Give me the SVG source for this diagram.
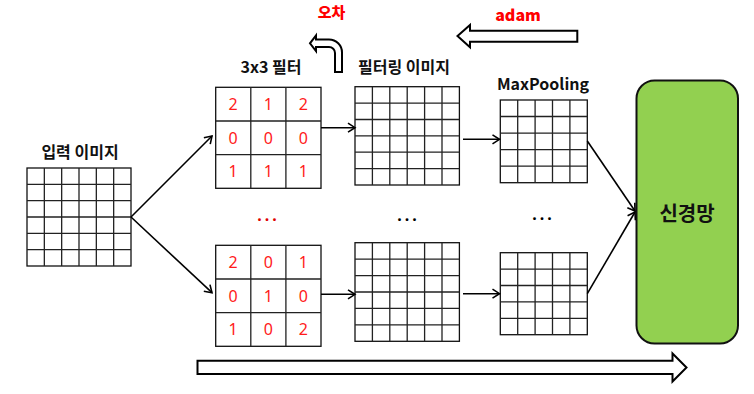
<svg xmlns="http://www.w3.org/2000/svg" width="754" height="394" viewBox="0 0 754 394">
<defs>
<marker id="ah" markerWidth="12" markerHeight="12" refX="9" refY="6" orient="auto" markerUnits="userSpaceOnUse">
<path d="M2,1.5 L9,6 L2,10.5" fill="none" stroke="#000" stroke-width="1.6"/>
</marker>
</defs>
<style>
.grid{fill:#fff;stroke:#111;stroke-width:1.3}
.gl{fill:none;stroke:#222;stroke-width:1.3}
.lbl{font-family:"Noto Sans CJK KR","Noto Sans",sans-serif;font-weight:bold;font-size:16px;fill:#111;text-anchor:middle}
.num{font-family:"Noto Sans","Noto Sans CJK KR",sans-serif;font-size:16px;fill:#ff1a1a;text-anchor:middle}
.red{font-family:"Noto Sans CJK KR","Noto Sans",sans-serif;font-weight:900;font-size:16px;fill:#ff0000;text-anchor:middle}
.dots{font-family:"Noto Sans",sans-serif;font-weight:bold;font-size:16px;letter-spacing:3px;text-anchor:middle}
.conn{fill:none;stroke:#000;stroke-width:1.6;marker-end:url(#ah)}
.blk{fill:#fff;stroke:#000;stroke-width:2;stroke-linejoin:miter}
</style>
<g id="input-image">
<text class="lbl" x="80" y="158">입력 이미지</text>
<rect class="grid" x="27" y="168" width="104" height="98"/>
<path class="gl" d="M44.33,168V266M61.67,168V266M79,168V266M96.33,168V266M113.67,168V266M27,184.33H131M27,200.67H131M27,217H131M27,233.33H131M27,249.67H131"/>
</g>
<g id="filter-top">
<text class="lbl" x="271" y="73">3x3 필터</text>
<rect class="grid" x="215.7" y="87.3" width="105.3" height="101"/>
<path class="gl" d="M250.8,87.3V188.3M285.9,87.3V188.3M215.7,121H321M215.7,154.7H321"/>
<text class="num" x="233.2" y="110">2</text><text class="num" x="268.3" y="110">1</text><text class="num" x="303.4" y="110">2</text>
<text class="num" x="233.2" y="143.6">0</text><text class="num" x="268.3" y="143.6">0</text><text class="num" x="303.4" y="143.6">0</text>
<text class="num" x="233.2" y="177.3">1</text><text class="num" x="268.3" y="177.3">1</text><text class="num" x="303.4" y="177.3">1</text>
</g>
<g id="filter-bottom">
<rect class="grid" x="215.7" y="245.3" width="105.3" height="101"/>
<path class="gl" d="M250.8,245.3V346.3M285.9,245.3V346.3M215.7,279H321M215.7,312.7H321"/>
<text class="num" x="233.2" y="268">2</text><text class="num" x="268.3" y="268">0</text><text class="num" x="303.4" y="268">1</text>
<text class="num" x="233.2" y="301.6">0</text><text class="num" x="268.3" y="301.6">1</text><text class="num" x="303.4" y="301.6">0</text>
<text class="num" x="233.2" y="335.3">1</text><text class="num" x="268.3" y="335.3">0</text><text class="num" x="303.4" y="335.3">2</text>
</g>
<g id="filter-dots"><text class="dots" x="268.5" y="221" fill="#e00000">...</text></g>
<g id="filtered-top">
<text class="lbl" x="404" y="73">필터링 이미지</text>
<rect class="grid" x="355" y="86.7" width="104.4" height="98.3"/>
<path class="gl" d="M372.4,86.7V185M389.8,86.7V185M407.2,86.7V185M424.6,86.7V185M442,86.7V185M355,103.1H459.4M355,119.5H459.4M355,135.8H459.4M355,152.2H459.4M355,168.6H459.4"/>
</g>
<g id="filtered-bottom">
<rect class="grid" x="355" y="242.7" width="104.4" height="98.6"/>
<path class="gl" d="M372.4,242.7V341.3M389.8,242.7V341.3M407.2,242.7V341.3M424.6,242.7V341.3M442,242.7V341.3M355,259.1H459.4M355,275.6H459.4M355,292H459.4M355,308.4H459.4M355,324.9H459.4"/>
</g>
<g id="filtered-dots"><text class="dots" x="408.5" y="221" fill="#000">...</text></g>
<g id="maxpool-top">
<text class="lbl" x="543" y="90">MaxPooling</text>
<rect class="grid" x="500.3" y="100" width="87" height="82.7"/>
<path class="gl" d="M517.7,100V182.7M535.1,100V182.7M552.5,100V182.7M569.9,100V182.7M500.3,116.5H587.3M500.3,133.1H587.3M500.3,149.6H587.3M500.3,166.2H587.3"/>
</g>
<g id="maxpool-bottom">
<rect class="grid" x="500.3" y="252.7" width="87" height="82"/>
<path class="gl" d="M517.7,252.7V334.7M535.1,252.7V334.7M552.5,252.7V334.7M569.9,252.7V334.7M500.3,269.1H587.3M500.3,285.5H587.3M500.3,301.9H587.3M500.3,318.3H587.3"/>
</g>
<g id="maxpool-dots"><text class="dots" x="543.5" y="220" fill="#000">...</text></g>
<g id="neural-net">
<rect x="636.5" y="80.5" width="101.5" height="263" rx="18" ry="18" fill="#92d050" stroke="#111" stroke-width="2"/>
<text class="lbl" x="687" y="221" style="font-size:20px">신경망</text>
</g>
<g id="connectors">
<path class="conn" d="M131,217L212,136"/>
<path class="conn" d="M131,217L212,292.7"/>
<path class="conn" d="M321,127.7H355"/>
<path class="conn" d="M321,294.3H355"/>
<path class="conn" d="M463,139.3H499.5"/>
<path class="conn" d="M463,293.7H499.5"/>
<path class="conn" d="M587.3,141L635,211"/>
<path class="conn" d="M587.3,293.7L635,212"/>
</g>
<g id="error-arrow">
<text class="red" x="331.5" y="18" style="font-size:15px">오차</text>
<path class="blk" d="M316,39.5H329A13,13 0 0 1 342,52.5V72H335V53A6,6 0 0 0 329,47H316V51L310,43.3L316,35.5Z"/>
</g>
<g id="adam-arrow">
<text class="red" x="518" y="21">adam</text>
<path class="blk" d="M577.3,30.7V41.7H470V47.3L457.5,36L470,25V30.7Z"/>
</g>
<g id="forward-arrow">
<path class="blk" d="M197.5,360.7H672.5V353.5L686.5,367.5L672.5,381.5V374H197.5Z"/>
</g>
</svg>
